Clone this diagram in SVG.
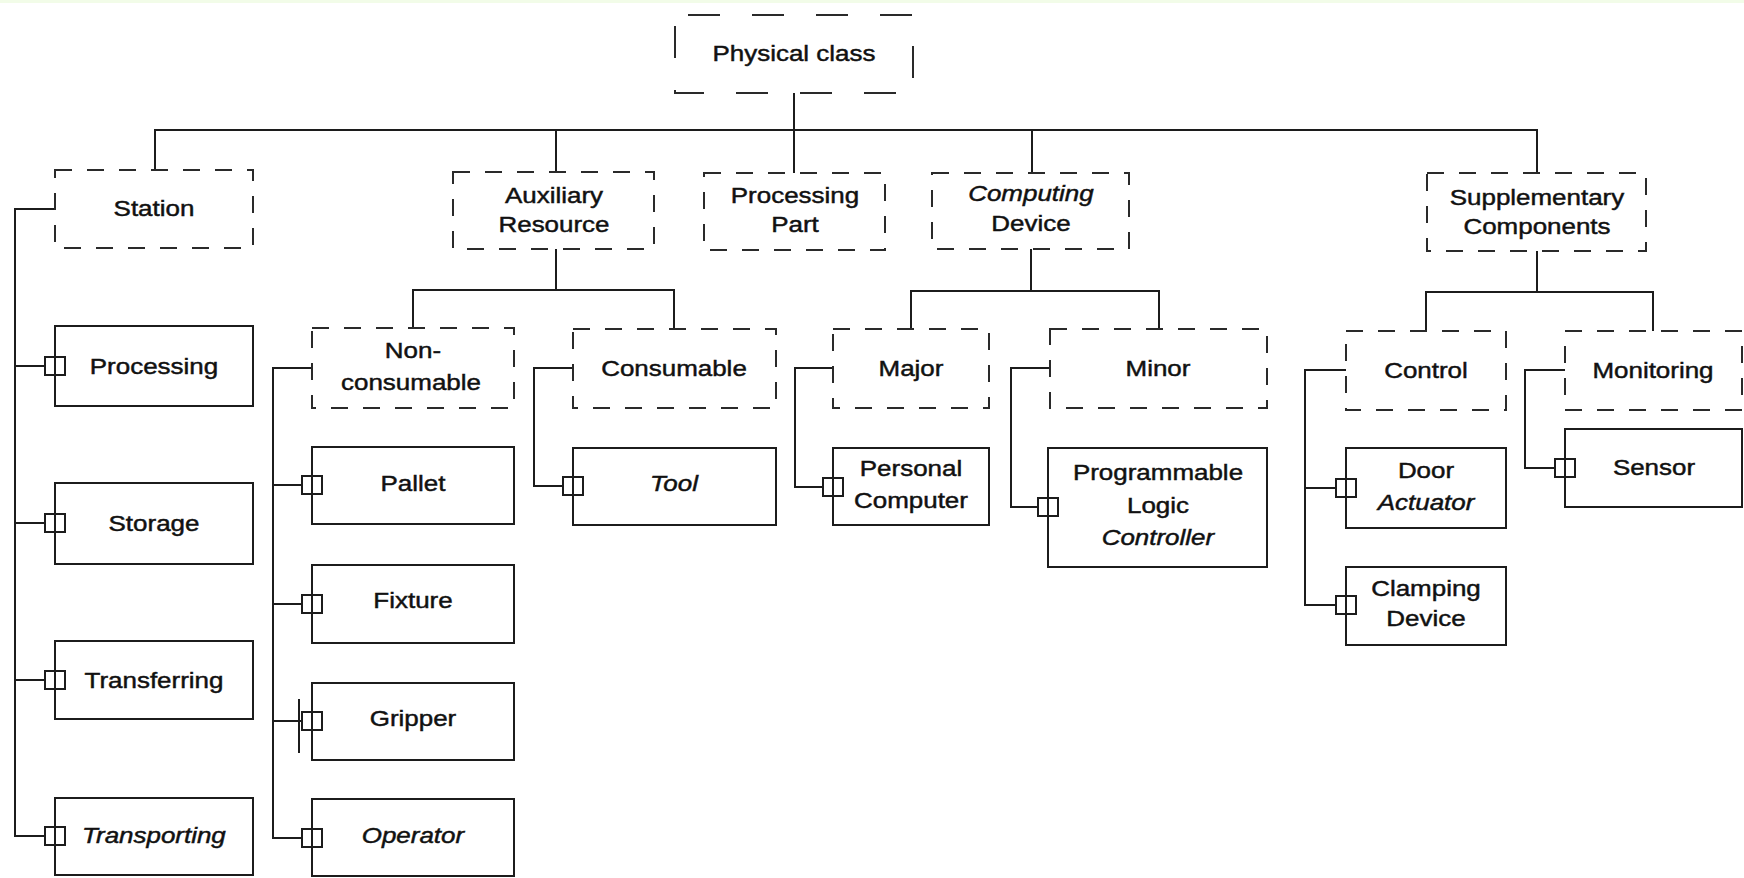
<svg xmlns="http://www.w3.org/2000/svg" width="1744" height="878" viewBox="0 0 1744 878">
  <style>
    .box { fill: none; stroke: #1c1c1c; stroke-width: 2; }
    .dash { fill: none; stroke: #2a2a2a; stroke-width: 2; stroke-dasharray: 17 15; }
    .dash-wide { fill: none; stroke: #2a2a2a; stroke-width: 2; stroke-dasharray: 32 32; stroke-dashoffset: 51; }
    .port { fill: none; stroke: #1c1c1c; stroke-width: 2; }
    .wire { fill: none; stroke: #1c1c1c; stroke-width: 2; }
    text { font-family: "Liberation Sans", Arial, sans-serif; font-size: 22px; fill: #111; stroke: #111; stroke-width: 0.45;
           text-anchor: middle; transform-box: fill-box; transform-origin: center; transform: scaleX(1.18); }
    .it { font-style: italic; }
  </style>

  <rect x="0" y="0" width="1744" height="878" fill="#ffffff"/>
  <rect x="0" y="0" width="1744" height="3" fill="#f2fce8"/>

  <!-- connectors -->
  <g id="connectors">
    <path class="wire" d="M794 93 V173"/>
    <path class="wire" d="M155 170 V130 H1537 V173"/>
    <path class="wire" d="M556 130 V172"/>
    <path class="wire" d="M1032 130 V173"/>
    <path class="wire" d="M556 249 V290 M413 328 V290 H674 V329"/>
    <path class="wire" d="M1031 249 V291 M911 329 V291 H1159 V329"/>
    <path class="wire" d="M1537 251 V292 M1426 331 V292 H1653 V331"/>
    <path class="wire" d="M55 209 H15 V836 H45 M15 366 H45 M15 523 H45 M15 680 H45"/>
    <path class="wire" d="M312 368 H273 V838 H302 M273 485 H302 M273 604 H302 M273 721 H302"/>
    <path class="wire" d="M573 368 H534 V486 H563"/>
    <path class="wire" d="M833 368 H795 V487 H823"/>
    <path class="wire" d="M1050 368 H1011 V507 H1038"/>
    <path class="wire" d="M1346 370 H1305 V605 H1336 M1305 488 H1336"/>
    <path class="wire" d="M1565 370 H1525 V468 H1555"/>
  </g>

  <!-- abstract classes (dashed) -->
  <g id="physical-class">
    <rect class="dash-wide" x="675" y="15" width="238" height="78"/>
    <text x="794" y="61">Physical class</text>
  </g>
  <g id="station">
    <rect class="dash" x="55" y="170" width="198" height="78"/>
    <text x="154" y="216">Station</text>
  </g>
  <g id="auxiliary-resource">
    <rect class="dash" x="453" y="172" width="201" height="77"/>
    <text x="554" y="203">Auxiliary</text>
    <text x="554" y="232">Resource</text>
  </g>
  <g id="processing-part">
    <rect class="dash" x="704" y="173" width="181" height="77"/>
    <text x="795" y="203">Processing</text>
    <text x="795" y="232">Part</text>
  </g>
  <g id="computing-device">
    <rect class="dash" x="932" y="173" width="197" height="76"/>
    <text class="it" x="1031" y="201">Computing</text>
    <text x="1031" y="231">Device</text>
  </g>
  <g id="supplementary-components">
    <rect class="dash" x="1427" y="173" width="219" height="78"/>
    <text x="1537" y="205">Supplementary</text>
    <text x="1537" y="234">Components</text>
  </g>
  <g id="non-consumable">
    <rect class="dash" x="312" y="328" width="202" height="80"/>
    <text x="413" y="358">Non-</text>
    <text x="411" y="390">consumable</text>
  </g>
  <g id="consumable">
    <rect class="dash" x="573" y="329" width="203" height="79"/>
    <text x="674" y="376">Consumable</text>
  </g>
  <g id="major">
    <rect class="dash" x="833" y="329" width="156" height="79"/>
    <text x="911" y="376">Major</text>
  </g>
  <g id="minor">
    <rect class="dash" x="1050" y="329" width="217" height="79"/>
    <text x="1158" y="376">Minor</text>
  </g>
  <g id="control">
    <rect class="dash" x="1346" y="331" width="160" height="79"/>
    <text x="1426" y="378">Control</text>
  </g>
  <g id="monitoring">
    <rect class="dash" x="1565" y="331" width="177" height="79"/>
    <text x="1653" y="378">Monitoring</text>
  </g>

  <!-- concrete classes (solid, with port) -->
  <g id="processing">
    <rect class="box" x="55" y="326" width="198" height="80"/>
    <rect class="port" x="45" y="357" width="20" height="18"/>
    <text x="154" y="374">Processing</text>
  </g>
  <g id="storage">
    <rect class="box" x="55" y="483" width="198" height="81"/>
    <rect class="port" x="45" y="514" width="20" height="18"/>
    <text x="154" y="531">Storage</text>
  </g>
  <g id="transferring">
    <rect class="box" x="55" y="641" width="198" height="78"/>
    <rect class="port" x="45" y="671" width="20" height="18"/>
    <text x="154" y="688">Transferring</text>
  </g>
  <g id="transporting">
    <rect class="box" x="55" y="798" width="198" height="77"/>
    <rect class="port" x="45" y="827" width="20" height="18"/>
    <text class="it" x="154" y="843">Transporting</text>
  </g>
  <g id="pallet">
    <rect class="box" x="312" y="447" width="202" height="77"/>
    <rect class="port" x="302" y="476" width="20" height="18"/>
    <text x="413" y="491">Pallet</text>
  </g>
  <g id="fixture">
    <rect class="box" x="312" y="565" width="202" height="78"/>
    <rect class="port" x="302" y="595" width="20" height="18"/>
    <text x="413" y="608">Fixture</text>
  </g>
  <g id="gripper">
    <rect class="box" x="312" y="683" width="202" height="77"/>
    <rect class="port" x="302" y="712" width="20" height="18"/>
    <path class="wire" d="M299 699 V753"/>
    <text x="413" y="726">Gripper</text>
  </g>
  <g id="operator">
    <rect class="box" x="312" y="799" width="202" height="77"/>
    <rect class="port" x="302" y="829" width="20" height="18"/>
    <text class="it" x="413" y="843">Operator</text>
  </g>
  <g id="tool">
    <rect class="box" x="573" y="448" width="203" height="77"/>
    <rect class="port" x="563" y="477" width="20" height="18"/>
    <text class="it" x="674" y="491">Tool</text>
  </g>
  <g id="personal-computer">
    <rect class="box" x="833" y="448" width="156" height="77"/>
    <rect class="port" x="823" y="478" width="20" height="18"/>
    <text x="911" y="476">Personal</text>
    <text x="911" y="508">Computer</text>
  </g>
  <g id="programmable-logic-controller">
    <rect class="box" x="1048" y="448" width="219" height="119"/>
    <rect class="port" x="1038" y="498" width="20" height="18"/>
    <text x="1158" y="480">Programmable</text>
    <text x="1158" y="513">Logic</text>
    <text class="it" x="1158" y="545">Controller</text>
  </g>
  <g id="door-actuator">
    <rect class="box" x="1346" y="448" width="160" height="80"/>
    <rect class="port" x="1336" y="479" width="20" height="18"/>
    <text x="1426" y="478">Door</text>
    <text class="it" x="1426" y="510">Actuator</text>
  </g>
  <g id="clamping-device">
    <rect class="box" x="1346" y="567" width="160" height="78"/>
    <rect class="port" x="1336" y="596" width="20" height="18"/>
    <text x="1426" y="596">Clamping</text>
    <text x="1426" y="626">Device</text>
  </g>
  <g id="sensor">
    <rect class="box" x="1565" y="429" width="177" height="78"/>
    <rect class="port" x="1555" y="459" width="20" height="18"/>
    <text x="1654" y="475">Sensor</text>
  </g>
</svg>
